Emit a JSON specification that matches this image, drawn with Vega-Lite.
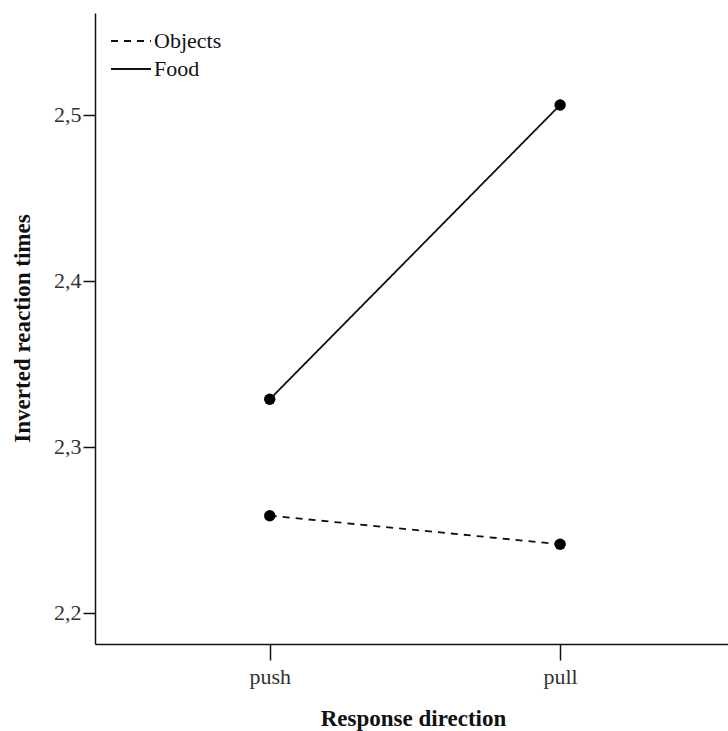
{
  "$schema": "https://vega.github.io/schema/vega-lite/v6.json",
  "width": 633,
  "height": 631,
  "autosize": "none",
  "padding": {"left": 95, "top": 13, "right": 0, "bottom": 87},
  "background": "white",
  "data": {
    "values": [
      {"direction": "push", "category": "Objects", "rt": 2.2586},
      {"direction": "pull", "category": "Objects", "rt": 2.2414},
      {"direction": "push", "category": "Food", "rt": 2.3287},
      {"direction": "pull", "category": "Food", "rt": 2.506}
    ]
  },
  "encoding": {
    "x": {
      "field": "direction",
      "type": "nominal",
      "sort": ["push", "pull"],
      "scale": {"type": "point", "padding": 0.59, "align": 0.51},
      "axis": {
        "title": "Response direction",
        "labelAngle": 0,
        "tickSize": 16,
        "labelPadding": 6,
        "titleX": 318,
        "titleY": 74,
        "titleBaseline": "middle",
        "titleAlign": "center"
      }
    },
    "y": {
      "field": "rt",
      "type": "quantitative",
      "scale": {"domain": [2.1813, 2.5614], "zero": false, "nice": false},
      "axis": {
        "title": "Inverted reaction times",
        "values": [2.2, 2.3, 2.4, 2.5],
        "labelExpr": "replace(format(datum.value, '.1f'), '.', ',')",
        "tickSize": 12,
        "labelPadding": 2,
        "titleX": -73,
        "titleY": 315,
        "titleAngle": -90,
        "titleAlign": "center",
        "titleBaseline": "middle"
      }
    }
  },
  "layer": [
    {
      "mark": {"type": "line", "color": "#111", "strokeWidth": 1.8},
      "encoding": {
        "strokeDash": {
          "field": "category",
          "type": "nominal",
          "scale": {"domain": ["Objects", "Food"], "range": [[7, 6], [1, 0]]},
          "legend": {
            "title": null,
            "orient": "none",
            "legendX": 15,
            "legendY": 18,
            "symbolType": "stroke",
            "symbolSize": 1600,
            "symbolStrokeWidth": 1.8,
            "symbolStrokeColor": "#111",
            "labelFont": "Liberation Serif",
            "labelFontSize": 22,
            "labelColor": "#111",
            "labelOffset": 2,
            "clipHeight": 20,
            "rowPadding": 6
          }
        },
        "detail": {"field": "category"}
      }
    },
    {
      "mark": {"type": "point", "filled": true, "color": "#000", "size": 130, "opacity": 1},
      "encoding": {"detail": {"field": "category"}}
    }
  ],
  "config": {
    "view": {"stroke": null},
    "axis": {
      "grid": false,
      "domainColor": "#111",
      "domainWidth": 1.5,
      "tickColor": "#111",
      "tickWidth": 1.5,
      "labelFont": "Liberation Serif",
      "labelFontSize": 22,
      "labelColor": "#333",
      "titleFont": "Liberation Serif",
      "titleFontSize": 23,
      "titleFontWeight": "bold",
      "titleColor": "#111"
    }
  }
}
